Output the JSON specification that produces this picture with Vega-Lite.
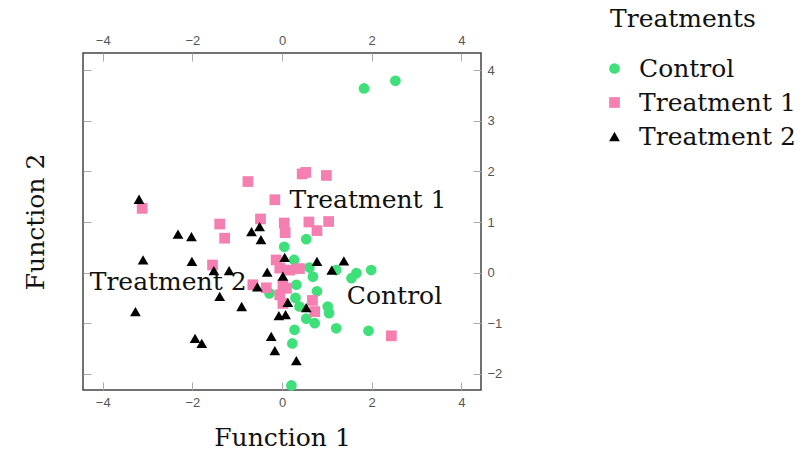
{
  "$schema": "https://vega.github.io/schema/vega-lite/v6.json",
  "width": 398,
  "height": 337,
  "autosize": {"type": "none"},
  "padding": {"left": 83, "top": 53, "right": 319, "bottom": 62},
  "background": "white",
  "config": {
    "view": {"stroke": "#444444", "strokeWidth": 1.5},
    "axis": {
      "grid": false,
      "domain": false,
      "tickColor": "#aaaaaa",
      "tickSize": -8,
      "labelPadding": 14,
      "labelFont": "Liberation Sans",
      "labelFontSize": 13,
      "labelColor": "#555555",
      "titleFont": "DejaVu Serif",
      "titleFontSize": 25,
      "titleFontWeight": "normal",
      "titleColor": "#111111"
    },
    "legend": {
      "titleFont": "DejaVu Serif",
      "titleFontSize": 25,
      "titleFontWeight": "normal",
      "titleColor": "#111111",
      "labelFont": "DejaVu Serif",
      "labelFontSize": 25,
      "labelColor": "#111111",
      "padding": 0
    }
  },
  "datasets": {
    "pts": [
      {"f1": 1.83, "f2": 3.64, "group": "Control"},
      {"f1": 2.53, "f2": 3.79, "group": "Control"},
      {"f1": 0.54, "f2": 0.66, "group": "Control"},
      {"f1": 0.05, "f2": 0.51, "group": "Control"},
      {"f1": 0.27, "f2": 0.25, "group": "Control"},
      {"f1": 0.61, "f2": 0.1, "group": "Control"},
      {"f1": 0.69, "f2": -0.08, "group": "Control"},
      {"f1": 1.21, "f2": 0.05, "group": "Control"},
      {"f1": 1.55, "f2": -0.11, "group": "Control"},
      {"f1": 1.66, "f2": -0.01, "group": "Control"},
      {"f1": 1.99, "f2": 0.05, "group": "Control"},
      {"f1": 0.78, "f2": -0.37, "group": "Control"},
      {"f1": 1.02, "f2": -0.67, "group": "Control"},
      {"f1": 1.05, "f2": -0.8, "group": "Control"},
      {"f1": 0.73, "f2": -1.0, "group": "Control"},
      {"f1": 0.54, "f2": -0.91, "group": "Control"},
      {"f1": 1.21, "f2": -1.1, "group": "Control"},
      {"f1": 1.93, "f2": -1.15, "group": "Control"},
      {"f1": 0.28, "f2": -1.13, "group": "Control"},
      {"f1": 0.23, "f2": -1.4, "group": "Control"},
      {"f1": 0.21, "f2": -2.23, "group": "Control"},
      {"f1": -0.28, "f2": -0.41, "group": "Control"},
      {"f1": 0.32, "f2": -0.24, "group": "Control"},
      {"f1": 0.39, "f2": -0.67, "group": "Control"},
      {"f1": 0.3, "f2": -0.5, "group": "Control"},
      {"f1": -3.12, "f2": 1.27, "group": "Treatment 1"},
      {"f1": -0.76, "f2": 1.8, "group": "Treatment 1"},
      {"f1": -1.39, "f2": 0.96, "group": "Treatment 1"},
      {"f1": -1.28, "f2": 0.68, "group": "Treatment 1"},
      {"f1": -0.16, "f2": 1.44, "group": "Treatment 1"},
      {"f1": 0.45, "f2": 1.95, "group": "Treatment 1"},
      {"f1": 0.53, "f2": 1.98, "group": "Treatment 1"},
      {"f1": 0.99, "f2": 1.92, "group": "Treatment 1"},
      {"f1": -0.48, "f2": 1.06, "group": "Treatment 1"},
      {"f1": 0.05, "f2": 0.98, "group": "Treatment 1"},
      {"f1": 0.07, "f2": 0.79, "group": "Treatment 1"},
      {"f1": 0.6, "f2": 1.0, "group": "Treatment 1"},
      {"f1": 0.78, "f2": 0.83, "group": "Treatment 1"},
      {"f1": 1.04, "f2": 1.01, "group": "Treatment 1"},
      {"f1": -1.55, "f2": 0.15, "group": "Treatment 1"},
      {"f1": -0.13, "f2": 0.25, "group": "Treatment 1"},
      {"f1": -0.05, "f2": 0.09, "group": "Treatment 1"},
      {"f1": 0.17, "f2": 0.05, "group": "Treatment 1"},
      {"f1": 0.39, "f2": 0.08, "group": "Treatment 1"},
      {"f1": -0.65, "f2": -0.24, "group": "Treatment 1"},
      {"f1": -0.35, "f2": -0.3, "group": "Treatment 1"},
      {"f1": 0.02, "f2": -0.24, "group": "Treatment 1"},
      {"f1": 0.1, "f2": -0.31, "group": "Treatment 1"},
      {"f1": -0.05, "f2": -0.44, "group": "Treatment 1"},
      {"f1": 0.68, "f2": -0.55, "group": "Treatment 1"},
      {"f1": 0.73, "f2": -0.77, "group": "Treatment 1"},
      {"f1": 2.44, "f2": -1.25, "group": "Treatment 1"},
      {"f1": 0.02, "f2": -0.61, "group": "Treatment 1"},
      {"f1": -3.19, "f2": 1.45, "group": "Treatment 2"},
      {"f1": -3.1, "f2": 0.25, "group": "Treatment 2"},
      {"f1": -3.27, "f2": -0.77, "group": "Treatment 2"},
      {"f1": -2.32, "f2": 0.76, "group": "Treatment 2"},
      {"f1": -2.02, "f2": 0.71, "group": "Treatment 2"},
      {"f1": -2.01, "f2": 0.22, "group": "Treatment 2"},
      {"f1": -1.94, "f2": -1.3, "group": "Treatment 2"},
      {"f1": -1.79, "f2": -1.4, "group": "Treatment 2"},
      {"f1": -1.52, "f2": 0.04, "group": "Treatment 2"},
      {"f1": -1.18, "f2": 0.04, "group": "Treatment 2"},
      {"f1": -1.39, "f2": -0.47, "group": "Treatment 2"},
      {"f1": -0.9, "f2": -0.67, "group": "Treatment 2"},
      {"f1": -0.68, "f2": 0.81, "group": "Treatment 2"},
      {"f1": -0.5, "f2": 0.91, "group": "Treatment 2"},
      {"f1": -0.47, "f2": 0.65, "group": "Treatment 2"},
      {"f1": -0.33, "f2": 0.01, "group": "Treatment 2"},
      {"f1": -0.55, "f2": -0.28, "group": "Treatment 2"},
      {"f1": 0.06, "f2": 0.3, "group": "Treatment 2"},
      {"f1": 0.02, "f2": -0.07, "group": "Treatment 2"},
      {"f1": 0.13, "f2": -0.59, "group": "Treatment 2"},
      {"f1": -0.07, "f2": -0.85, "group": "Treatment 2"},
      {"f1": 0.08, "f2": -0.83, "group": "Treatment 2"},
      {"f1": 0.54, "f2": -0.69, "group": "Treatment 2"},
      {"f1": 0.78, "f2": 0.22, "group": "Treatment 2"},
      {"f1": 1.11, "f2": 0.05, "group": "Treatment 2"},
      {"f1": 1.38, "f2": 0.23, "group": "Treatment 2"},
      {"f1": -0.24, "f2": -1.26, "group": "Treatment 2"},
      {"f1": -0.16, "f2": -1.54, "group": "Treatment 2"},
      {"f1": 0.32, "f2": -1.74, "group": "Treatment 2"}
    ],
    "labels": [
      {"f1": 1.92, "f2": 1.44, "name": "Treatment 1"},
      {"f1": -2.54, "f2": -0.18, "name": "Treatment 2"},
      {"f1": 2.51, "f2": -0.47, "name": "Control"}
    ]
  },
  "layer": [
    {
      "data": {"name": "pts"},
      "mark": {"type": "point", "filled": true, "opacity": 1},
      "encoding": {
        "x": {
          "field": "f1", "type": "quantitative",
          "scale": {"domain": [-4.44, 4.44], "nice": false, "zero": false},
          "axis": {"orient": "bottom", "values": [-4, -2, 0, 2, 4], "title": "Function 1", "titlePadding": 16}
        },
        "y": {
          "field": "f2", "type": "quantitative",
          "scale": {"domain": [-2.32, 4.34], "nice": false, "zero": false},
          "axis": {"orient": "left", "values": [-2, -1, 0, 1, 2, 3, 4], "labels": false, "title": "Function 2", "titlePadding": 34}
        },
        "size": {
          "field": "group", "type": "nominal",
          "scale": {"domain": ["Control", "Treatment 1", "Treatment 2"], "range": [115, 115, 150]},
          "legend": null
        },
        "color": {
          "field": "group", "type": "nominal",
          "scale": {"domain": ["Control", "Treatment 1", "Treatment 2"], "range": ["#3ee07a", "#f47fb0", "#000000"]},
          "legend": {"title": "Treatments", "orient": "none", "legendX": 527, "legendY": -46, "titlePadding": 24, "rowPadding": 8, "symbolSize": 95, "symbolOffset": -8, "labelOffset": 12}
        },
        "shape": {
          "field": "group", "type": "nominal",
          "scale": {"domain": ["Control", "Treatment 1", "Treatment 2"], "range": ["circle", "square", "triangle-up"]},
          "legend": {"title": "Treatments", "orient": "none", "legendX": 527, "legendY": -46}
        }
      }
    },
    {
      "data": {"name": "pts"},
      "mark": {"type": "point", "opacity": 0},
      "encoding": {
        "x": {
          "field": "f1", "type": "quantitative",
          "axis": {"orient": "top", "values": [-4, -2, 0, 2, 4], "title": null}
        },
        "y": {
          "field": "f2", "type": "quantitative",
          "axis": {"orient": "right", "values": [-2, -1, 0, 1, 2, 3, 4], "title": null}
        }
      }
    },
    {
      "data": {"name": "labels"},
      "mark": {"type": "text", "font": "DejaVu Serif", "fontSize": 25, "color": "#111111"},
      "encoding": {
        "x": {"field": "f1", "type": "quantitative", "axis": null},
        "y": {"field": "f2", "type": "quantitative", "axis": null},
        "text": {"field": "name"}
      }
    }
  ],
  "resolve": {"axis": {"x": "independent", "y": "independent"}}
}
